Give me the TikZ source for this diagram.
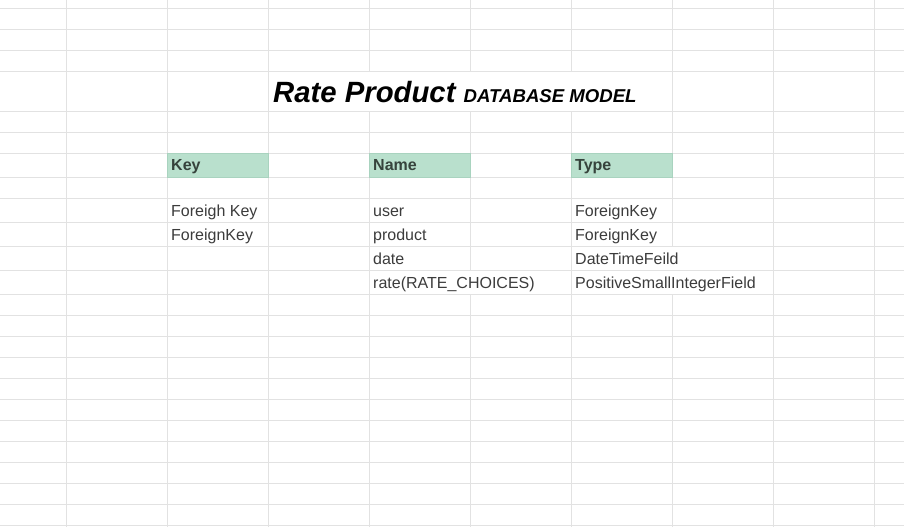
\documentclass[tikz,border=0pt]{standalone}
\usepackage{fontspec}
\setmainfont{Liberation Sans}
\definecolor{gridc}{HTML}{E2E2E2}
\definecolor{hdrfill}{HTML}{B9E0CD}
\definecolor{hdrline}{HTML}{A9D3BF}
\definecolor{hdrtext}{HTML}{36433C}
\definecolor{bodytext}{HTML}{3C3C3C}
\tikzset{
  gridline/.style={draw=gridc, line width=1pt},
  hdrcell/.style={fill=hdrfill, draw=hdrline, line width=0.8pt},
  hdrtxt/.style={anchor=base west, inner sep=0pt, text=hdrtext, font=\fontsize{16}{19}\selectfont\bfseries},
  bodytxt/.style={anchor=base west, inner sep=0pt, text=bodytext, font=\fontsize{16}{19}\selectfont},
}
\begin{document}
\begin{tikzpicture}[x=1pt,y=-1pt]
\useasboundingbox (0,0) rectangle (904,527);
\fill[white] (0,0) rectangle (904,527);
% horizontal grid lines
\foreach \y in {8.3,29.3,50.3,71.3,111.3,132.3,153.3,177.3,198.8,222.3,246.3,270.3,294.3,315,336,357,378,399,420,441,462,483,504,525}
  \draw[gridline] (0,\y) -- (904,\y);
% vertical grid lines (full height)
\foreach \x in {66.5,167.5,268.5,773.5,874.5}
  \draw[gridline] (\x,0) -- (\x,527);
% column 369.5 : hidden in title row
\draw[gridline] (369.5,0) -- (369.5,71.3);
\draw[gridline] (369.5,111.3) -- (369.5,527);
% column 470.5 : hidden in title row and rate row
\draw[gridline] (470.5,0) -- (470.5,71.3);
\draw[gridline] (470.5,111.3) -- (470.5,270.3);
\draw[gridline] (470.5,294.3) -- (470.5,527);
% column 571.5 : hidden in title row
\draw[gridline] (571.5,0) -- (571.5,71.3);
\draw[gridline] (571.5,111.3) -- (571.5,527);
% column 672.5 : hidden in date and rate rows
\draw[gridline] (672.5,0) -- (672.5,246.3);
\draw[gridline] (672.5,294.3) -- (672.5,527);
% header cells
\draw[hdrcell] (167.5,153.3) rectangle (268.5,177.3);
\draw[hdrcell] (369.5,153.3) rectangle (470.5,177.3);
\draw[hdrcell] (571.5,153.3) rectangle (672.5,177.3);
% title
\node[anchor=base west, inner sep=0pt, text=black] (title) at (273,102)
  {\fontsize{29.3}{33}\selectfont\bfseries\itshape Rate Product \fontsize{18.6}{22}\selectfont DATABASE MODEL};
% headers
\node[hdrtxt] (hkey) at (171,170.8) {Key};
\node[hdrtxt] (hname) at (373,170.8) {Name};
\node[hdrtxt] (htype) at (575,170.8) {Type};
% body
\node[bodytxt] (k1) at (171,216.5) {Foreigh Key};
\node[bodytxt] (k2) at (171,240.5) {ForeignKey};
\node[bodytxt] (n1) at (373,216.5) {user};
\node[bodytxt] (n2) at (373,240.5) {product};
\node[bodytxt] (n3) at (373,264.5) {date};
\node[bodytxt] (n4) at (373,288.5) {rate(RATE\_CHOICES)};
\node[bodytxt] (t1) at (575,216.5) {ForeignKey};
\node[bodytxt] (t2) at (575,240.5) {ForeignKey};
\node[bodytxt] (t3) at (575,264.5) {DateTimeFeild};
\node[bodytxt] (t4) at (575,288.5) {PositiveSmallIntegerField};
\end{tikzpicture}
\end{document}
